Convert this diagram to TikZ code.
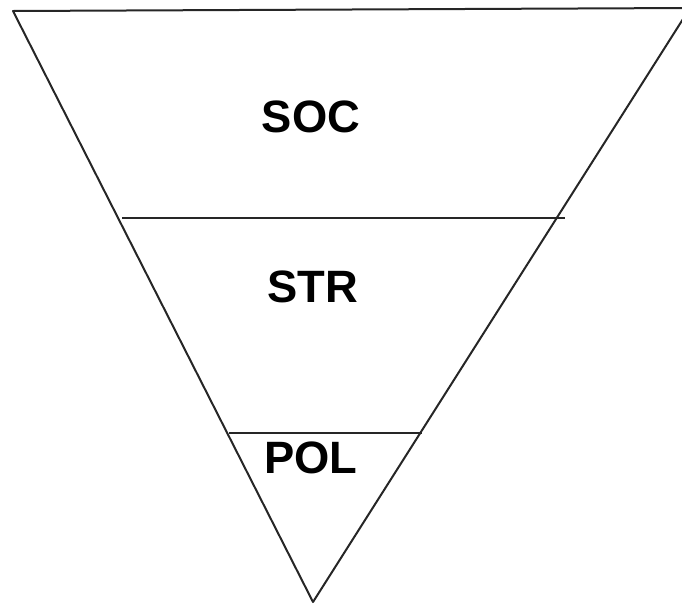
\documentclass[tikz,border=0pt]{standalone}
\usepackage{fontspec}
\setmainfont{Liberation Sans}
\begin{document}
\begin{tikzpicture}[x=0.75pt,y=-0.75pt,
  edge/.style={line width=1.5pt,line join=round,black!85},
  level/.style={font=\bfseries\fontsize{34}{40}\selectfont,inner sep=0pt,anchor=center}]
  \useasboundingbox (0,0) rectangle (682,604);
  \clip (0,0) rectangle (682,604);
  % corners of the inverted triangle
  \coordinate (tl) at (13,11);
  \coordinate (tr) at (690,8);
  \coordinate (apex) at (313,602);
  % ends of the dividing lines
  \coordinate (a1) at (122,218);
  \coordinate (b1) at (565,218);
  \coordinate (a2) at (229,433);
  \coordinate (b2) at (422,433);
  % outline and dividers
  \draw[edge] (tl) -- (tr) -- (apex) -- cycle;
  \draw[edge] (a1) -- (b1);
  \draw[edge] (a2) -- (b2);
  % labels
  \node[level] (soc) at (311,117) {SOC};
  \node[level] (str) at (313,287) {STR};
  \node[level] (pol) at (311,458) {POL};
\end{tikzpicture}
\end{document}
